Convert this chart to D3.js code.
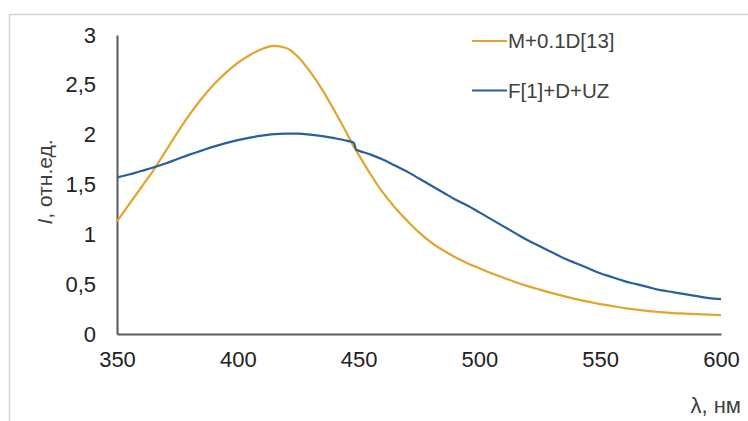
<!DOCTYPE html>
<html>
<head>
<meta charset="utf-8">
<script src="https://cdn.jsdelivr.net/npm/d3@7"></script>
<style>
    body { margin: 0; background: #fff; }
    svg { display: block; font-family: Arial, "Liberation Sans", sans-serif; }
</style>
</head>
<body>
<svg id="chart" width="748" height="421"></svg>
<script>
// wavelength, nm
var wavelengths = [350, 355, 360, 365, 370, 375, 380, 385, 390, 395,
    400, 405, 410, 415, 420, 425, 430, 435, 440, 445, 448, 449,
    450, 455, 460, 465, 470, 475, 480, 485, 490, 495,
    500, 505, 510, 515, 520, 525, 530, 535, 540, 545,
    550, 555, 560, 565, 570, 575, 580, 585, 590, 595, 600];

// M+0.1D[13]
var seriesM = [1.13, 1.30, 1.47, 1.64, 1.83, 2.02, 2.20, 2.36, 2.50, 2.62,
    2.72, 2.80, 2.86, 2.89, 2.87, 2.78, 2.63, 2.45, 2.24, 2.02, 1.88, 1.84,
    1.80, 1.60, 1.42, 1.27, 1.14, 1.02, 0.92, 0.84, 0.77, 0.71,
    0.66, 0.61, 0.565, 0.52, 0.48, 0.445, 0.41, 0.38, 0.35, 0.325,
    0.30, 0.28, 0.26, 0.245, 0.23, 0.22, 0.21, 0.205, 0.20, 0.195, 0.19];

// F[1]+D+UZ
var seriesF = [1.57, 1.60, 1.635, 1.67, 1.71, 1.755, 1.80, 1.84, 1.88, 1.915,
    1.945, 1.97, 1.99, 2.005, 2.01, 2.01, 2.00, 1.985, 1.965, 1.94, 1.92, 1.85,
    1.84, 1.80, 1.75, 1.69, 1.63, 1.56, 1.49, 1.42, 1.35, 1.29,
    1.22, 1.15, 1.08, 1.01, 0.94, 0.88, 0.82, 0.76, 0.71, 0.66,
    0.61, 0.57, 0.53, 0.50, 0.47, 0.44, 0.42, 0.40, 0.38, 0.36, 0.35];

var xTicks = [350, 400, 450, 500, 550, 600];
var yTicks = [0, 0.5, 1, 1.5, 2, 2.5, 3];

var series = [
    { name: 'M+0.1D[13]', values: seriesM, color: '#E2A42A' },
    { name: 'F[1]+D+UZ', values: seriesF, color: '#285F9E' }
];

var svg = d3.select('#chart');

// light frame (only top and left edges are in view)
svg.append('path')
    .attr('d', 'M9.5,421V14.5H748')
    .attr('fill', 'none')
    .attr('stroke', '#d4d4d4')
    .attr('stroke-width', 1.5);

var x = d3.scaleLinear().domain([350, 600]).range([117, 721]);
var y = d3.scaleLinear().domain([0, 3]).range([334, 35]);

var fmt = function(d) { return String(d).replace('.', ','); };

// y axis
var yAxis = svg.append('g')
    .attr('transform', 'translate(' + x(350) + ',0)')
    .call(d3.axisLeft(y).tickValues(yTicks).tickSize(0).tickPadding(21).tickFormat(fmt));
yAxis.select('.domain').attr('stroke', '#595959').attr('stroke-width', 2);
yAxis.selectAll('text').attr('font-size', 22).attr('fill', '#222');

// x axis
var xAxis = svg.append('g')
    .attr('transform', 'translate(0,' + y(0) + ')')
    .call(d3.axisBottom(x).tickValues(xTicks).tickSize(0).tickPadding(17).tickFormat(d3.format('d')));
xAxis.select('.domain').attr('stroke', '#595959').attr('stroke-width', 2);
xAxis.selectAll('text').attr('font-size', 22).attr('fill', '#222');

var line = d3.line()
    .x(function(d, i) { return x(wavelengths[i]); })
    .y(function(d) { return y(d); })
    .curve(d3.curveMonotoneX);

svg.selectAll('.series')
    .data(series)
    .enter().append('path')
    .attr('class', 'series')
    .attr('d', function(s) { return line(s.values); })
    .attr('fill', 'none')
    .attr('stroke', function(s) { return s.color; })
    .attr('stroke-width', 2.2)
    .attr('stroke-linejoin', 'round');

// legend
var legend = svg.selectAll('.legend')
    .data(series)
    .enter().append('g')
    .attr('class', 'legend')
    .attr('transform', function(s, i) { return 'translate(472,' + (41 + i * 49.5) + ')'; });
legend.append('line')
    .attr('x1', 0).attr('x2', 35)
    .attr('stroke', function(s) { return s.color; })
    .attr('stroke-width', 2.2);
legend.append('text')
    .attr('x', 36)
    .attr('dy', '0.35em')
    .attr('font-size', 20.5)
    .attr('fill', '#404040')
    .text(function(s) { return s.name; });

// axis titles
svg.append('text')
    .attr('x', 741)
    .attr('y', 413)
    .attr('text-anchor', 'end')
    .attr('font-size', 22)
    .attr('fill', '#404040')
    .text('λ, нм');

var yTitle = svg.append('text')
    .attr('transform', 'translate(52,182) rotate(-90)')
    .attr('text-anchor', 'middle')
    .attr('font-size', 21)
    .attr('fill', '#404040');
yTitle.append('tspan').attr('font-style', 'italic').text('I');
yTitle.append('tspan').text(', отн.ед.');
</script>
</body>
</html>
